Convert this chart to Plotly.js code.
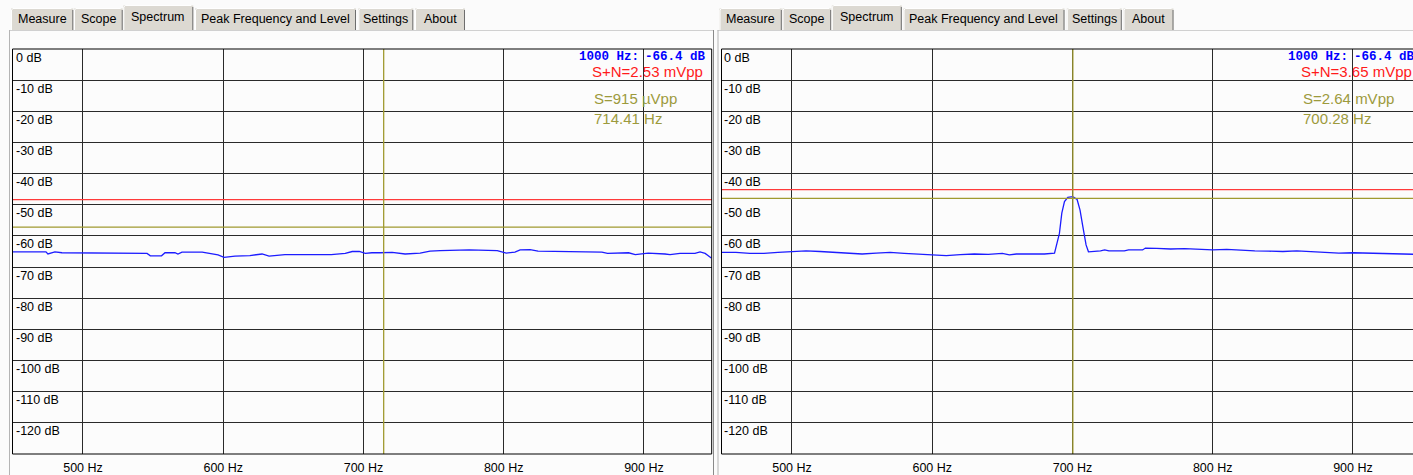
<!DOCTYPE html>
<html>
<head>
<meta charset="utf-8">
<script src="https://cdn.plot.ly/plotly-3.0.1.min.js"></script>
<style>
  html, body { margin: 0; padding: 0; background: #fbfbfb; }
  #chart { width: 1413px; height: 475px; }
</style>
</head>
<body>
<div id="chart"></div>
<script>
// ---- data ---------------------------------------------------------------
const tabNames = ['Measure', 'Scope', 'Spectrum', 'Peak Frequency and Level', 'Settings', 'About'];
const selectedTab = 'Spectrum';

const freqTicks = [500, 600, 700, 800, 900];
const freqTickText = ['500 Hz', '600 Hz', '700 Hz', '800 Hz', '900 Hz'];
const levelLabels = [0, -10, -20, -30, -40, -50, -60, -70, -80, -90, -100, -110, -120];
const levelGridLeft = [0, -10, -20, -30, -40, -50, -60, -70, -80, -90, -100, -110, -120];
const levelGridRight = [0, -10, -20, -30, -40, -60, -70, -80, -90, -100, -110, -120];

// left analyser: noise floor only
const leftFreq = [450, 473.6, 475, 480, 485, 519, 545.7, 548, 556, 558.5, 565.6, 567.7, 570.6, 585, 590.6,
  596.3, 600.6, 608.4, 619, 627.7, 632.7, 644, 677, 687, 692, 697, 701.3, 706, 711.8, 720.5, 729.7, 740.4,
  747.5, 754.7, 775.4, 795.4, 801.8, 808, 811.7, 818.8, 824.5, 854.5, 870, 874, 889, 893.8, 897.3, 903, 915,
  918.6, 925.7, 936.4, 940, 943.6, 948];
const leftDb = [-65.1, -65.1, -65.8, -65.1, -65.4, -65.4, -65.6, -66.4, -66.4, -65.4, -65.4, -65.8, -65.2, -65.2, -65.6,
  -66.1, -66.9, -66.5, -66.3, -65.8, -66.5, -66.0, -66.0, -65.6, -65.0, -65.0, -65.6, -65.4, -65.4, -65.3, -65.8, -65.5,
  -64.9, -64.7, -64.5, -64.7, -65.5, -65.2, -64.5, -64.4, -64.9, -65.2, -65.2, -65.6, -65.4, -66.0, -65.8, -65.5, -65.8,
  -66.0, -65.6, -65.6, -65.1, -65.6, -67.1];

// right analyser: tone near 700 Hz
const rightFreq = [450, 460, 470, 480, 490, 500, 510, 520, 530, 540, 550, 560, 570, 580, 590, 600, 610, 620, 630,
  640, 650, 655, 660, 670, 680, 687.2, 690.7, 692.4, 694.3, 696.7, 700.2, 703.3, 705.4, 707.4, 709.7, 711.4,
  715, 720, 723, 726, 737, 740, 750, 752, 760, 770, 780, 790, 800, 810, 820, 830, 840, 850, 860, 870, 880,
  890, 900, 910, 920, 930, 940, 944];
const rightDb = [-65.3, -65.3, -65.6, -65.6, -65.3, -65.0, -64.8, -65.0, -65.3, -65.6, -65.8, -65.5, -65.3, -65.6, -65.9,
  -66.1, -66.3, -66.0, -65.8, -65.9, -65.6, -66.1, -65.8, -65.8, -65.8, -65.5, -59.2, -52.7, -49.0, -47.6, -47.4, -48.3,
  -51.7, -57.0, -62.9, -65.1, -65.0, -64.8, -64.5, -64.8, -64.8, -64.5, -64.5, -63.9, -64.0, -64.2, -64.1, -64.3, -64.5,
  -64.3, -64.6, -64.8, -64.9, -65.0, -64.8, -65.1, -65.3, -65.5, -65.4, -65.5, -65.6, -65.6, -65.8, -65.9];

// readouts
const cursorFreq = ['1000 Hz:', '1000 Hz:'];
const cursorLevel = ['-66.4 dB', '-66.4 dB'];
const snVpp = [2.53e-3, 3.65e-3];          // S+N, volts peak-to-peak
const sVpp = [915e-6, 2.64e-3];            // S, volts peak-to-peak
const snText = ['S+N=2.53 mVpp', 'S+N=3.65 mVpp'];
const sText = ['S=915 \u00b5Vpp', 'S=2.64 mVpp'];
const peakHz = [714.41, 700.28];
const peakText = ['714.41 Hz', '700.28 Hz'];
const fullScaleVpp = 0.66;                 // 0 dB reference

// ---- layout helpers -------------------------------------------------------
const W = 1413, H = 475;
const X = p => p / W;
const Y = p => 1 - p / H;
const toDb = v => 20 * Math.log10(v / fullScaleVpp);

const panelOffset = [0, 708.5];            // horizontal shift of the second window
const plotLeft = 12.5, plotRight = 711.7, plotTop = 49, plotBottom = 454;
const pxPerHz = (plotRight - plotLeft) / (948.3 - 449.75);
const fMin = 449.75;

const uiFont = 'Liberation Sans, Arial, sans-serif';
const monoFont = 'Liberation Mono, Courier New, monospace';
const RED = '#ff3a3a', OLIVE = '#a09a30', OLIVE_TXT = '#9c9a3c', BLUE = '#1c1cff', GRID = '#2a2a2a';

const tabEdges = [[11, 73.3], [74, 122.7], [123.3, 193.3], [195, 356], [358.3, 413.3], [415, 465]];

const shapes = [];
const annotations = [];

// window chrome: page area, tab strip
panelOffset.forEach(off => {
  shapes.push({type: 'rect', xref: 'paper', yref: 'paper', x0: X(9 + off), x1: X(714 + off), y0: Y(475), y1: Y(30),
    fillcolor: '#fcfcfc', line: {width: 0}, layer: 'below'});
  shapes.push({type: 'line', xref: 'paper', yref: 'paper', x0: X(9 + off), x1: X(714 + off), y0: Y(30.5), y1: Y(30.5),
    line: {color: '#d0d0d0', width: 1}, layer: 'below'});
  shapes.push({type: 'line', xref: 'paper', yref: 'paper', x0: X(9.5 + off), x1: X(9.5 + off), y0: Y(30), y1: Y(475),
    line: {color: '#b4b4b4', width: 1}, layer: 'below'});
  shapes.push({type: 'line', xref: 'paper', yref: 'paper', x0: X(713.5 + off), x1: X(713.5 + off), y0: Y(30), y1: Y(475),
    line: {color: '#8a8a8a', width: 1}, layer: 'below'});
  tabNames.forEach((name, i) => {
    const [a, b] = tabEdges[i];
    const sel = name === selectedTab;
    const top = sel ? 5.5 : 8.5;
    shapes.push({type: 'rect', xref: 'paper', yref: 'paper', x0: X(a + off), x1: X(b + off), y0: Y(30), y1: Y(top),
      fillcolor: '#dcd9d2', line: {width: 0}, layer: 'below'});
    shapes.push({type: 'path', xref: 'paper', yref: 'paper',
      path: `M ${X(a + off + 0.5)} ${Y(30)} L ${X(a + off + 0.5)} ${Y(top + 1.5)} L ${X(a + off + 2)} ${Y(top)} L ${X(b + off - 2)} ${Y(top)}`,
      line: {color: '#ffffff', width: 1}, layer: 'below'});
    shapes.push({type: 'line', xref: 'paper', yref: 'paper', x0: X(b + off - 0.5), x1: X(b + off - 0.5), y0: Y(top + 1.5), y1: Y(30),
      line: {color: '#6e6e6e', width: 1}, layer: 'below'});
    annotations.push({xref: 'paper', yref: 'paper', x: X((a + b) / 2 + off), y: Y(sel ? 16.5 : 19.5),
      text: name, showarrow: false, xanchor: 'center', yanchor: 'middle',
      font: {family: uiFont, size: 12.5, color: '#000'}});
  });
});

// per-panel plot decorations
const axisIds = [['x', 'y'], ['x2', 'y2']];
axisIds.forEach(([xa, ya], k) => {
  const off = panelOffset[k];
  // S+N and S levels, peak frequency marker
  shapes.push({type: 'line', xref: xa + ' domain', yref: ya, x0: 0, x1: 1, y0: toDb(snVpp[k]), y1: toDb(snVpp[k]),
    line: {color: RED, width: 1.3}, layer: 'above'});
  shapes.push({type: 'line', xref: xa + ' domain', yref: ya, x0: 0, x1: 1, y0: toDb(sVpp[k]), y1: toDb(sVpp[k]),
    line: {color: OLIVE, width: 1.3}, layer: 'above'});
  shapes.push({type: 'line', xref: xa, yref: ya + ' domain', x0: peakHz[k], x1: peakHz[k], y0: 0, y1: 1,
    line: {color: OLIVE, width: 1.3}, layer: 'above'});
  // plot frame
  shapes.push({type: 'line', xref: xa + ' domain', yref: ya + ' domain', x0: 0, x1: 0, y0: 0, y1: 1, line: {color: '#000', width: 1}, layer: 'above'});
  shapes.push({type: 'line', xref: xa + ' domain', yref: ya + ' domain', x0: 0, x1: 1, y0: 1, y1: 1, line: {color: '#000', width: 1}, layer: 'above'});
  shapes.push({type: 'line', xref: xa + ' domain', yref: ya + ' domain', x0: 0, x1: 1, y0: 0, y1: 0, line: {color: '#000', width: 1}, layer: 'above'});
  if (k === 0) {
    shapes.push({type: 'line', xref: xa + ' domain', yref: ya + ' domain', x0: 1, x1: 1, y0: 0, y1: 1, line: {color: '#000', width: 1}, layer: 'above'});
  }
  // level labels inside the plot, under each grid line
  levelLabels.forEach(v => {
    annotations.push({xref: 'paper', yref: ya, x: X(plotLeft + off + 1), y: v, yshift: 0.5,
      text: v + ' dB', showarrow: false, xanchor: 'left', yanchor: 'top',
      font: {family: uiFont, size: 12.5, color: '#000'}});
  });
  // readouts
  annotations.push({xref: 'paper', yref: 'paper', x: X(641 + off), y: Y(57), text: cursorFreq[k], showarrow: false,
    xanchor: 'right', yanchor: 'middle', font: {family: monoFont, size: 12.5, color: '#0000ff', weight: 'bold'}});
  annotations.push({xref: 'paper', yref: 'paper', x: X(708 + off), y: Y(57), text: cursorLevel[k], showarrow: false,
    xanchor: 'right', yanchor: 'middle', font: {family: monoFont, size: 12.5, color: '#0000ff', weight: 'bold'}});
  annotations.push({xref: 'paper', yref: 'paper', x: X(590 + off), y: Y(72), text: snText[k], showarrow: false,
    xanchor: 'left', yanchor: 'middle', font: {family: uiFont, size: 15, color: '#ff1a1a'}});
  annotations.push({xref: 'paper', yref: 'paper', x: X(592 + off), y: Y(98), text: sText[k], showarrow: false,
    xanchor: 'left', yanchor: 'middle', font: {family: uiFont, size: 15, color: OLIVE_TXT}});
  annotations.push({xref: 'paper', yref: 'paper', x: X(592 + off), y: Y(118.5), text: peakText[k], showarrow: false,
    xanchor: 'left', yanchor: 'middle', font: {family: uiFont, size: 15, color: OLIVE_TXT}});
});

function xAxis(domain, range) {
  return {domain, range, tickvals: freqTicks, ticktext: freqTickText, showgrid: true, gridcolor: GRID, gridwidth: 1,
    zeroline: false, showline: false, ticks: '', fixedrange: true,
    tickfont: {family: uiFont, size: 12.5, color: '#000'}, ticklabelstandoff: 4};
}
function yAxis(domain, grid, anchor) {
  return {domain, range: [-130, 0], tickvals: grid, showticklabels: false, showgrid: true, gridcolor: GRID, gridwidth: 1,
    zeroline: false, showline: false, ticks: '', fixedrange: true, anchor};
}

const yDom = [Y(plotBottom), Y(plotTop)];
const rightStart = plotLeft + panelOffset[1] + 0.5;
const layout = {
  width: W, height: H,
  margin: {l: 0, r: 0, t: 0, b: 0, pad: 0},
  paper_bgcolor: '#fbfbfb', plot_bgcolor: '#ffffff',
  showlegend: false,
  xaxis: xAxis([X(plotLeft), X(plotRight)], [fMin, fMin + (plotRight - plotLeft) / pxPerHz]),
  yaxis: yAxis(yDom, levelGridLeft, 'x'),
  xaxis2: Object.assign(xAxis([X(rightStart), 1], [fMin, fMin + (W - rightStart) / pxPerHz]), {anchor: 'y2'}),
  yaxis2: yAxis(yDom, levelGridRight, 'x2'),
  shapes, annotations
};

const traces = [
  {x: leftFreq, y: leftDb, xaxis: 'x', yaxis: 'y', type: 'scatter', mode: 'lines', line: {color: BLUE, width: 1.3}, hoverinfo: 'skip'},
  {x: rightFreq, y: rightDb, xaxis: 'x2', yaxis: 'y2', type: 'scatter', mode: 'lines', line: {color: BLUE, width: 1.3}, hoverinfo: 'skip'}
];

Plotly.newPlot('chart', traces, layout, {displayModeBar: false, staticPlot: true});
</script>
</body>
</html>
